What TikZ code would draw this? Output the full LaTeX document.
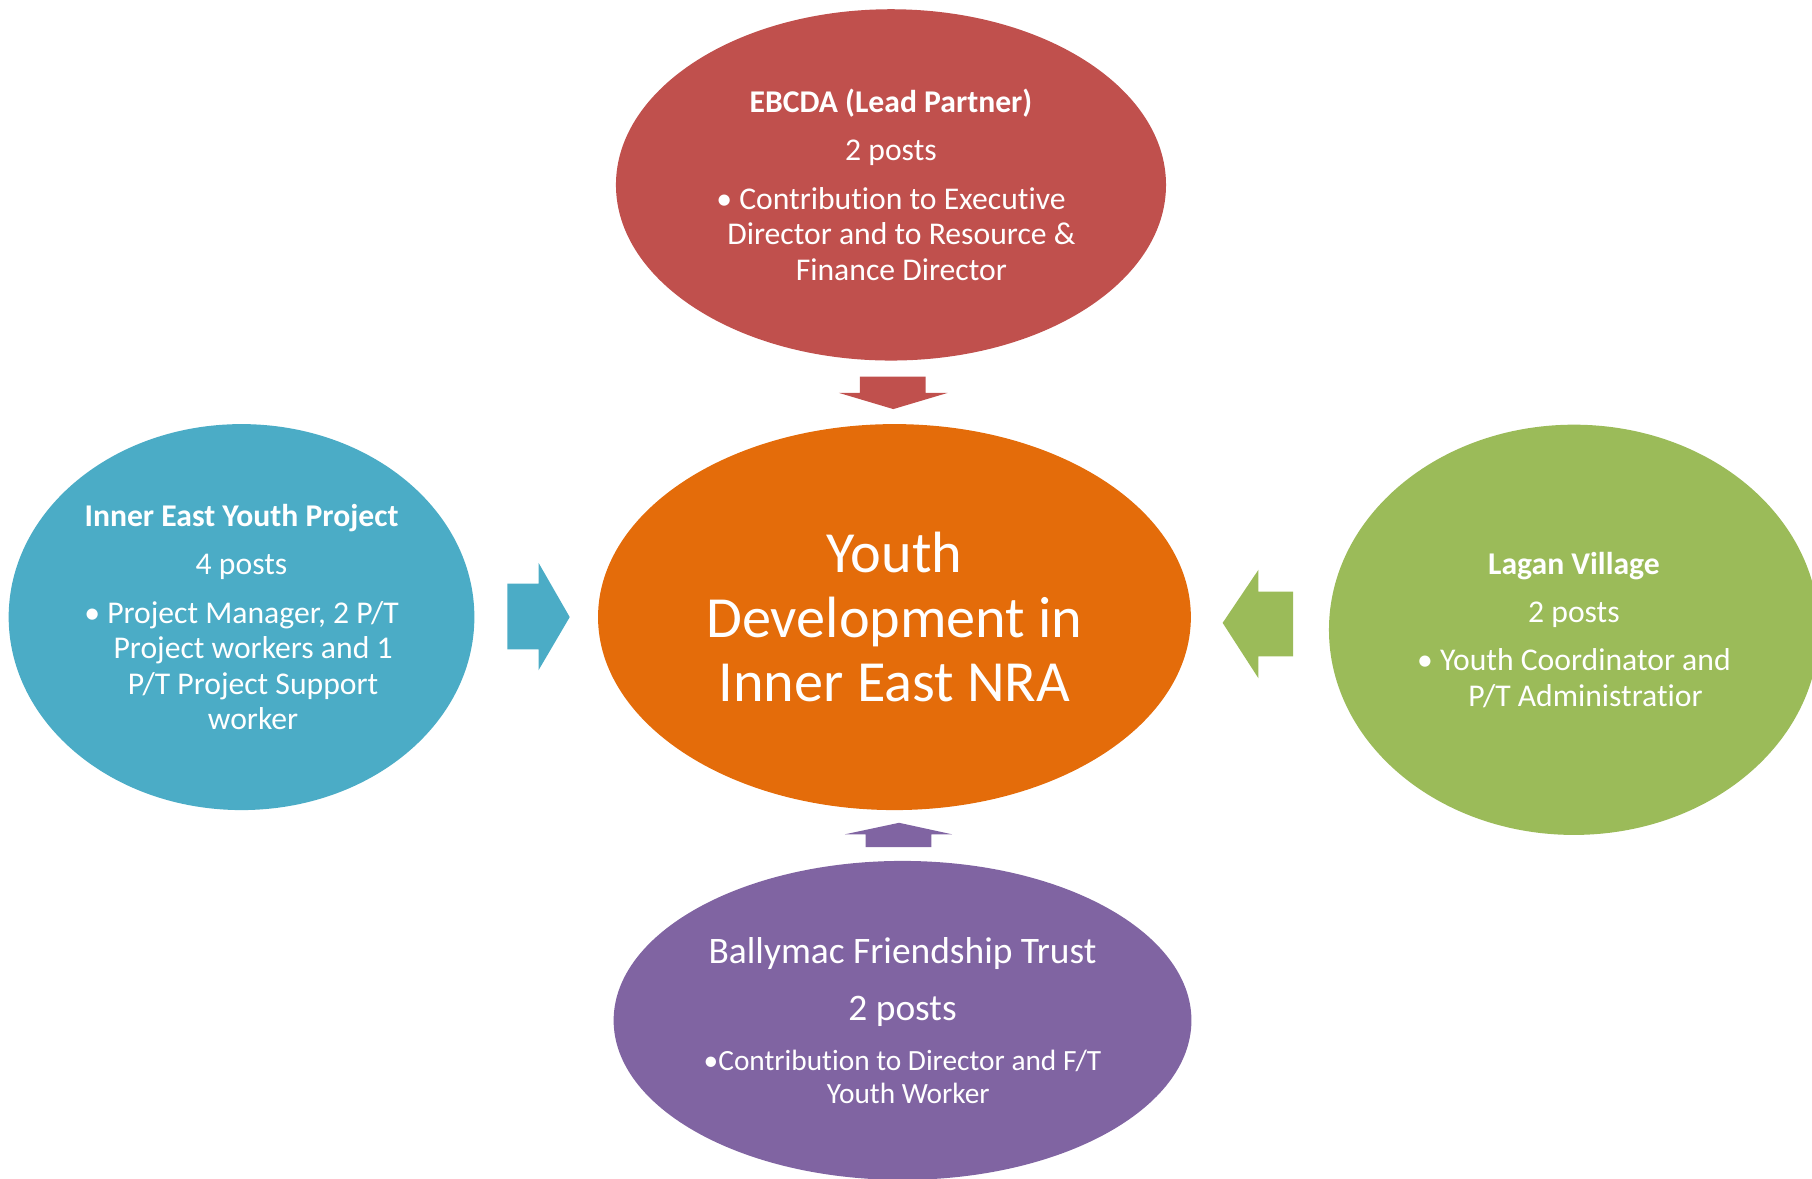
\documentclass[tikz,border=0pt]{standalone}
\usepackage{fontspec}
\setmainfont{Carlito}[Ligatures=NoCommon]
\usetikzlibrary{shapes.geometric}

\definecolor{ebcdared}{HTML}{C0504D}
\definecolor{youthorange}{HTML}{E46C0A}
\definecolor{ieyblue}{HTML}{4BACC6}
\definecolor{laganGreen}{HTML}{9BBB59}
\definecolor{ballyPurple}{HTML}{8064A2}

\tikzset{
  bubble/.style={ellipse,inner sep=0pt,text=white,align=center},
  small/.style={font=\fontsize{13.7}{15.4}\selectfont},
}
% hanging indent of the bullet lines
\newcommand{\hang}[1]{\hspace*{#1}}

\begin{document}
\begin{tikzpicture}[x=0.5pt,y=-0.5pt]
  \useasboundingbox (0,0) rectangle (1568,1020);
  \clip (0,0) rectangle (1568,1020);

  \node (ebcda) at (771,160) [bubble,small,fill=ebcdared,minimum width=238pt,minimum height=152pt]
    {\textbf{EBCDA (Lead Partner)}\\[5.5pt]2 posts\\[5.5pt]
     • Contribution to Executive\\\hang{9pt}Director and to Resource \&\\\hang{9pt}Finance Director};
  \node (youth) at (774,534) [bubble,fill=youthorange,minimum width=256.5pt,minimum height=167pt,
    font=\fontsize{25.2}{28}\selectfont]
    {Youth\\Development in\\Inner East NRA};
  \node (iey) at (209,534) [bubble,small,fill=ieyblue,minimum width=201.5pt,minimum height=167pt]
    {\textbf{Inner East Youth Project}\\[5.5pt]4 posts\\[5.5pt]
     • Project Manager, 2 P/T\\\hang{10pt}Project workers and 1\\\hang{10pt}P/T Project Support\\\hang{10pt}worker};
  \node (lagan) at (1362,545) [bubble,small,fill=laganGreen,minimum width=212pt,minimum height=177.5pt]
    {\textbf{Lagan Village}\\[5.5pt]2 posts\\[5.5pt]
     • Youth Coordinator and\\\hang{10pt}P/T Administratior};
  \node (bally) at (781,883) [bubble,fill=ballyPurple,minimum width=250pt,minimum height=138pt,
    font=\fontsize{16.2}{17}\selectfont]
    {Ballymac Friendship Trust\\[7.5pt]2 posts\\[5pt]
     \fontsize{12.7}{14}\selectfont •Contribution to Director and F/T\\[-3pt]
     \fontsize{12.7}{14}\selectfont \hang{5pt}Youth Worker};

  % block arrows into the centre
  \fill[ebcdared] (744,326) -- (801,326) -- (801,340) -- (820,340) -- (773,354)
    -- (726,340) -- (744,340) -- cycle;
  \fill[ieyblue] (439,505) -- (466,505) -- (466,487) -- (493,534) -- (466,580)
    -- (466,562) -- (439,562) -- cycle;
  \fill[laganGreen] (1119,512) -- (1089,512) -- (1089,493) -- (1058,539) -- (1089,587)
    -- (1089,568) -- (1119,568) -- cycle;
  \fill[ballyPurple] (749,733) -- (749,722) -- (731,722) -- (778,712) -- (824,722)
    -- (806,722) -- (806,733) -- cycle;

\end{tikzpicture}
\end{document}
